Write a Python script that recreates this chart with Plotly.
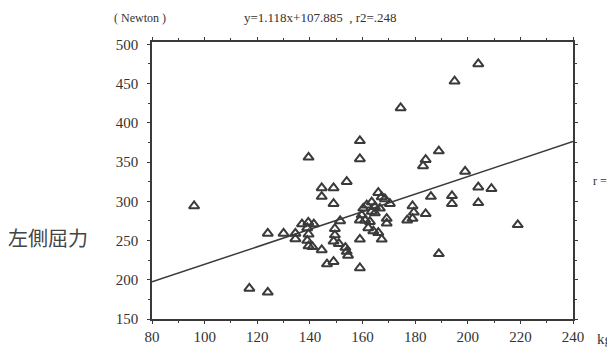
import plotly.graph_objects as go

# Data (kg vs Newton)
weight_kg = [
    204, 195, 174.5, 159, 139.5, 159, 189, 184, 183, 199, 154,
    144.5, 149, 144.5, 149, 96,
    117, 124,
    124, 130, 134.5, 134.5,
    137, 139.4, 141.5,
    139, 139.5, 139, 139.5, 141,
    144.5, 146.5, 149,
    149.5, 149.5, 149, 151,
    151.5, 153.5, 154, 154.5,
    166, 167.3, 168.5, 170.4,
    163.5, 161.6, 160.3, 164.7, 166.6,
    163.5, 164.7,
    159.7, 159, 161,
    162.8, 162.2,
    169.2, 169.2,
    164.1, 166, 167.3,
    159, 159,
    177, 179, 179, 179.5, 184, 186, 194, 194, 204, 209, 204, 219, 189,
]
force_newton = [
    475, 453, 419, 377, 356, 354, 364, 353, 345, 338, 325,
    317, 317, 306, 297, 294,
    189, 184,
    259, 259, 259, 252,
    271, 273, 271,
    266, 258, 250, 243, 242,
    238, 220, 223,
    265, 257, 249, 246,
    275, 241, 236, 231,
    311, 305.5, 303, 297,
    299, 295, 291, 293, 291,
    287, 285,
    282.5, 276, 276,
    274, 266,
    278, 272,
    262, 260, 251.5,
    251.5, 215,
    276, 278, 294, 286, 284, 306, 307, 297, 318, 316, 298, 270, 233,
]

slope = 1.118
intercept = 107.885
fit_x = [80, 240]
fit_y = [slope * x + intercept for x in fit_x]

x_ticks = [80, 100, 120, 140, 160, 180, 200, 220, 240]
y_ticks = [150, 200, 250, 300, 350, 400, 450, 500]

ink = "#3a3a3a"
serif = "Liberation Serif"

fig = go.Figure()
fig.add_trace(go.Scatter(
    x=fit_x, y=fit_y, mode="lines",
    line=dict(color=ink, width=1.5), hoverinfo="skip", showlegend=False,
))
fig.add_trace(go.Scatter(
    x=weight_kg, y=force_newton, mode="markers",
    marker=dict(symbol="triangle-up-open", size=9, color=ink,
                line=dict(color=ink, width=2)),
    showlegend=False,
))

axis_common = dict(
    showgrid=False, zeroline=False, showline=True, linecolor=ink, linewidth=1.5,
    ticks="outside", ticklen=3, tickwidth=1, tickcolor=ink, mirror="ticks",
    tickfont=dict(family=serif, size=15, color="#333"),
)

fig.update_xaxes(range=[80, 240], tickvals=x_ticks,
                 minor=dict(ticks="outside", ticklen=2, dtick=10, tickcolor=ink),
                 **axis_common)
fig.update_yaxes(range=[150, 503], tickvals=y_ticks, ticklabelstandoff=6,
                 minor=dict(ticks="outside", ticklen=2, dtick=25, tickcolor=ink),
                 **axis_common)

# The page body has an 8px default margin: figure coords = page coords - 8
OFF = 8
W, H = 607, 349
L, R, T, B = 144, 42, 34, 31
annots = [
    dict(text="( Newton )", x=140, y=17, fs=12, anchor="center"),
    dict(text="y=1.118x+107.885  , r2=.248", x=320, y=17, fs=13, anchor="center"),
    dict(text="r =", x=591, y=184, fs=12, anchor="left"),
    dict(text="kg", x=595, y=347, fs=15, anchor="left"),
]
for a in annots:
    fx, fy = a["x"] - OFF, a["y"] - OFF
    fig.add_annotation(
        text=a["text"], showarrow=False,
        xref="paper", yref="paper",
        x=(fx - L) / (W - L - R), y=1 - (fy - T) / (H - T - B),
        xanchor=a["anchor"], yanchor="middle",
        font=dict(family=serif, size=a["fs"], color="#333"),
    )
fig.add_annotation(
    text="左側屈力", showarrow=False, xref="paper", yref="paper",
    x=(48 - OFF - L) / (W - L - R), y=1 - (242 - OFF - T) / (H - T - B),
    xanchor="center", yanchor="middle",
    font=dict(family="Noto Sans CJK TC", size=20, color="#444"),
)

fig.update_layout(
    width=W, height=H, margin=dict(l=L, r=R, t=T, b=B),
    paper_bgcolor="white", plot_bgcolor="white",
)

fig.write_html("out.html")
